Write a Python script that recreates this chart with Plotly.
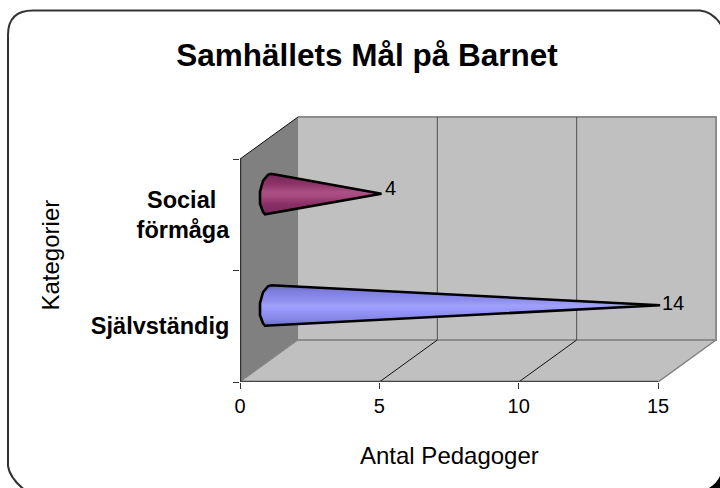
import plotly.graph_objects as go

title = "Samhällets Mål på Barnet"
x_title = "Antal Pedagoger"
y_title = "Kategorier"
categories = ["Självständig", "Social&#160;&#160;<br>förmåga"]
values = [14, 4]
x_ticks = [0, 5, 10, 15]
gridlines = [5, 10]
cone_scales = [
    [[0, "#6a6ac4"], [0.15, "#8484e4"], [0.42, "#9a9aff"], [0.5, "#a0a0f8"], [0.62, "#8f8ff0"], [0.85, "#7e7ede"], [1, "#6a6ab4"]],
    [[0, "#752a58"], [0.25, "#8a2f68"], [0.45, "#a84a80"], [0.55, "#aa5085"], [0.75, "#8e3268"], [1, "#702656"]],
]

FONT = "Liberation Sans, Arial, sans-serif"
W, H = 720, 488
X0, X1, Y0, Y1 = 240, 658, 382, 159
sx = (X1 - X0) / (x_ticks[-1] - x_ticks[0])
sy = (Y0 - Y1) / len(categories)
DX, DY = 58 / sx, 42 / sy
xmax, ymax = x_ticks[-1], len(categories)

# base outline of a cone around its centre, px (dx, dy)
base = [(2, -20), (-1, -19), (-6, -13), (-9, -2), (-9, 10), (-6, 18), (-4, 20.5)]

fig = go.Figure()

def poly(xs, ys, fill=None, line=None, width=1):
    fig.add_trace(go.Scatter(
        x=xs, y=ys, mode="lines", fill="toself" if fill else "none",
        fillcolor=fill, line=dict(color=line or "rgba(0,0,0,0)", width=width),
        hoverinfo="skip", showlegend=False))

# walls
poly([0, DX, DX, 0, 0], [0, DY, ymax + DY, ymax, 0], "#808080")
poly([DX, xmax + DX, xmax + DX, DX, DX], [DY, DY, ymax + DY, ymax + DY, DY], "#C0C0C0")
poly([0, xmax, xmax + DX, DX, 0], [0, 0, DY, DY, 0], "#C0C0C0")
# wall edges
poly([DX, xmax + DX, xmax + DX, DX], [ymax + DY, ymax + DY, DY, DY], None, "#8c8c8c", 2)
poly([0, DX], [ymax, ymax + DY], None, "#111111", 1)
poly([0, DX], [0, DY], None, "#808080", 1)
poly([xmax, xmax + DX], [0, DY], None, "#808080", 1.5)
for g in gridlines:
    poly([g, g + DX], [0, DY], None, "#111111", 1)
    poly([g + DX, g + DX], [DY, ymax + DY], None, "#505050", 1)
# axis lines (the visible axis ends at the last tick, before the depth offset)
poly([0, xmax], [0, 0], None, "#444444", 2.5)
poly([0, 0], [0, ymax], None, "#333333", 2.5)

# cones
for i, v in enumerate(values):
    cy = i + 0.5 + DY / 2
    xs = [DX / 2 + dx / sx for dx, dy in base] + [v + 1 / sx + DX / 2]
    ys = [cy - dy / sy for dx, dy in base] + [cy]
    xs.append(xs[0]); ys.append(ys[0])
    fig.add_trace(go.Scatter(
        x=xs, y=ys, mode="lines", fill="toself",
        fillgradient=dict(type="vertical", colorscale=cone_scales[i]),
        line=dict(color="#000000", width=2.6),
        hoverinfo="skip", showlegend=False))
    fig.add_annotation(x=v + DX / 2, y=cy, text=str(v), showarrow=False, xanchor="left",
                       xshift=3 if v < 10 else 1, yshift=6 if v < 10 else 2,
                       font=dict(family=FONT, size=20, color="#000000"))

fig.add_annotation(xref="paper", yref="paper", x=449 / W, y=1 - 455 / H, text=x_title, showarrow=False,
                   xanchor="center", yanchor="middle", font=dict(family=FONT, size=24, color="#000000"))
fig.add_annotation(xref="paper", yref="paper", x=49.5 / W, y=1 - 255 / H, text=y_title, showarrow=False,
                   textangle=-90, xanchor="center", yanchor="middle",
                   font=dict(family=FONT, size=24, color="#000000"))

fig.update_layout(
    width=W, height=H, margin=dict(l=0, r=0, t=0, b=0, pad=0),
    paper_bgcolor="#FFFFFF", plot_bgcolor="rgba(0,0,0,0)", showlegend=False,
    font=dict(family=FONT, color="#000000"),
    title=dict(text=f"<b>{title}</b>", x=367 / W, xanchor="center", y=1 - 55 / H, yanchor="middle",
               font=dict(family=FONT, size=31.5, color="#000000")),
    xaxis=dict(domain=[X0 / W, 1], range=[0, (W - X0) / sx], tickvals=x_ticks, showgrid=False, zeroline=False,
               automargin=False, showline=False, tickfont=dict(family=FONT, size=20),
               ticks="outside", ticklen=6, tickwidth=1, tickcolor="#333333"),
    yaxis=dict(domain=[1 - Y0 / H, 1 - 112 / H], range=[0, (Y0 - 112) / sy],
               tickvals=[i + 0.5 for i in range(len(categories))],
               ticktext=[f"<b>{c}</b>" for c in categories], showgrid=False, zeroline=False,
               automargin=False, showline=False, tickfont=dict(family=FONT, size=23.5),
               ticks="outside", ticklen=5, tickcolor="rgba(0,0,0,0)",
               minor=dict(tickvals=list(range(len(categories) + 1)), ticks="outside", ticklen=6,
                          tickwidth=1, tickcolor="#333333", showgrid=False)),
    shapes=[
        dict(type="path", xref="paper", yref="paper", layer="below",
             path=f"M {8/W} {1-35/H} Q {8/W} {1-10.5/H} {33/W} {1-10.5/H} L {700/W} {1-10.5/H} "
                  f"Q {715/W} {1-12/H} {724/W} {1-30/H} L {727/W} {1-470/H} "
                  f"Q {722/W} {1-480/H} {706/W} {1-494/H} L {30/W} {1-494/H} Q {10/W} {1-480/H} {8/W} {1-466/H} Z",
             line=dict(color="#333333", width=2), fillcolor="#FFFFFF"),
        dict(type="path", xref="paper", yref="paper", layer="above",
             path=f"M {709/W} {1-488/H} Q {717/W} {1-483/H} {720/W} {1-476/H} L {720/W} 0 Z",
             line=dict(width=0), fillcolor="#000000"),
    ],
)

fig.write_html("out.html", config={"displayModeBar": False},
               post_script="document.body.style.margin='0';document.documentElement.style.overflow='hidden';")
